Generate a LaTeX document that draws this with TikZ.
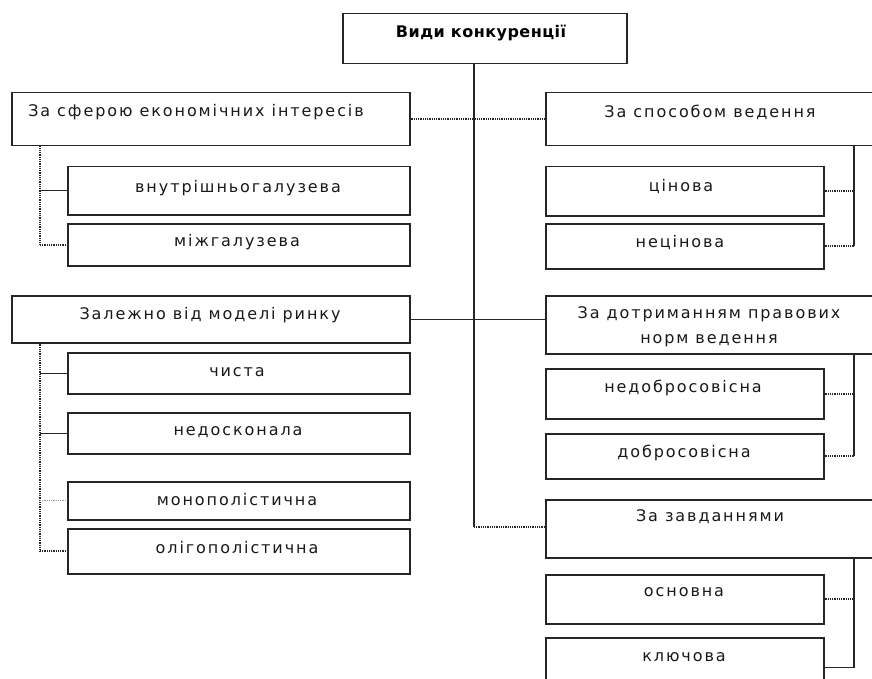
\documentclass[tikz,border=0pt]{standalone}
\usepackage{fontspec}
\newfontfamily\lbl{DejaVu Sans}[LetterSpace=12]
\newfontfamily\ttl{DejaVu Sans}[LetterSpace=3]
\begin{document}
\begin{tikzpicture}[x=1pt,y=-1pt,
  box/.style={draw=black!85, line width=1.5pt, fill=white, inner sep=0pt, anchor=north west},
  txt/.style={inner sep=0pt, font=\lbl\fontsize{16}{19}\selectfont, text=black!90},
  conn/.style={line width=1.4pt, draw=black!85},
  dconn/.style={conn, line width=1.7pt, dash pattern=on 0.9pt off 0.9pt}]
\useasboundingbox (0,0) rectangle (872,679);
\clip (0,0) rectangle (872,679);
% top
\node[box, minimum width=284pt, minimum height=50pt] (top) at (342,13) {};
\node[inner sep=0pt, font=\ttl\bfseries\fontsize{16}{19}\selectfont] (tt) at (481,33) {Види конкуренції};
% left column
\node[box, minimum width=398pt, minimum height=53pt] (b1) at (11,92) {};
\node[txt] (t1) at (196,112) {За сферою економічних інтересів};
\node[box, minimum width=342pt, minimum height=48pt] (s11) at (67,166) {};
\node[txt] (t11) at (238,188) {внутрішньогалузева};
\node[box, minimum width=342pt, minimum height=42pt] (s12) at (67,223) {};
\node[txt] (t12) at (237,242) {міжгалузева};
\node[box, minimum width=398pt, minimum height=47pt] (b3) at (11,295) {};
\node[txt] (t3) at (210,315) {Залежно від моделі ринку};
\node[box, minimum width=342pt, minimum height=41pt] (s31) at (67,352) {};
\node[txt] (t31) at (237,372) {чиста};
\node[box, minimum width=342pt, minimum height=41pt] (s32) at (67,412) {};
\node[txt] (t32) at (238,432) {недосконала};
\node[box, minimum width=342pt, minimum height=38pt] (s33) at (67,481) {};
\node[txt] (t33) at (237,500) {монополістична};
\node[box, minimum width=342pt, minimum height=45pt] (s34) at (67,528) {};
\node[txt] (t34) at (237,548) {олігополістична};
% right column
\node[box, minimum width=330pt, minimum height=53pt] (b2) at (545,92) {};
\node[txt] (t2) at (710,112) {За способом ведення};
\node[box, minimum width=278pt, minimum height=49pt] (s21) at (545,166) {};
\node[txt] (t21) at (681,187) {цінова};
\node[box, minimum width=278pt, minimum height=45pt] (s22) at (545,223) {};
\node[txt] (t22) at (680,243) {нецінова};
\node[box, minimum width=330pt, minimum height=58pt] (b4) at (545,295) {};
\node[txt, align=center, font=\lbl\fontsize{16}{25}\selectfont] (t4) at (709,327) {За дотриманням правових\\норм ведення};
\node[box, minimum width=278pt, minimum height=50pt] (s41) at (545,368) {};
\node[txt] (t41) at (683,388) {недобросовісна};
\node[box, minimum width=278pt, minimum height=45pt] (s42) at (545,433) {};
\node[txt] (t42) at (684,453) {добросовісна};
\node[box, minimum width=330pt, minimum height=58pt] (b5) at (545,499) {};
\node[txt] (t5) at (710,517) {За завданнями};
\node[box, minimum width=278pt, minimum height=49pt] (s51) at (545,574) {};
\node[txt] (t51) at (684,592) {основна};
\node[box, minimum width=278pt, minimum height=60pt] (s52) at (545,637) {};
\node[txt] (t52) at (684,657) {ключова};
% main trunk
\coordinate (mt) at (474,527);
\draw[conn] (top.south -| mt) -- (mt);
\draw[dconn] (mt) -- (mt -| b5.west);
\draw[dconn] (b1.east) -- (b2.west);
\draw[conn] (b3.east) -- (b3.east -| b4.west);
% left trunks
\coordinate (lx) at (40,0);
\draw[dconn] (b1.south -| lx) -- (s12.west -| lx);
\draw[conn] (s11.west -| lx) -- (s11.west);
\draw[dconn] (s12.west -| lx) -- (s12.west);
\draw[dconn] (b3.south -| lx) -- (s34.west -| lx);
\draw[conn] (s31.west -| lx) -- (s31.west);
\draw[conn] (s32.west -| lx) -- (s32.west);
\draw[dconn, draw=black!40, line width=0.8pt] (s33.west -| lx) -- (s33.west);
\draw[dconn] (s34.west -| lx) -- (s34.west);
% right trunks
\coordinate (rx) at (854,0);
\draw[conn] (b2.south -| rx) -- (s22.east -| rx);
\draw[dconn] (s21.east) -- (s21.east -| rx);
\draw[dconn] (s22.east) -- (s22.east -| rx);
\draw[conn] (b4.south -| rx) -- (s42.east -| rx);
\draw[dconn] (s41.east) -- (s41.east -| rx);
\draw[dconn] (s42.east) -- (s42.east -| rx);
\draw[conn] (b5.south -| rx) -- (s52.east -| rx);
\draw[dconn] (s51.east) -- (s51.east -| rx);
\draw[conn] (s52.east) -- (s52.east -| rx);
\end{tikzpicture}
\end{document}
